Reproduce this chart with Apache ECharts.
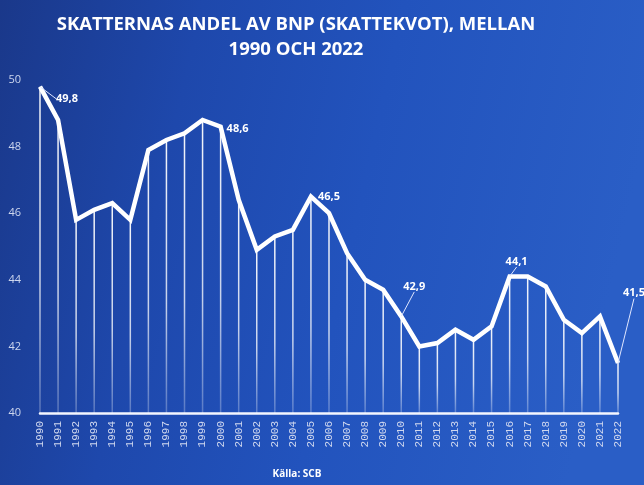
<!DOCTYPE html>
<html>
<head>
<meta charset="utf-8">
<script src="https://cdn.jsdelivr.net/npm/echarts@6/dist/echarts.min.js"></script>
<style>
html,body{margin:0;padding:0;background:#1f4aa8;}
#c{width:644px;height:485px;}
</style>
</head>
<body>
<div id="c"></div>
<script>
var years = ['1990','1991','1992','1993','1994','1995','1996','1997','1998','1999','2000','2001','2002','2003','2004','2005','2006','2007','2008','2009','2010','2011','2012','2013','2014','2015','2016','2017','2018','2019','2020','2021','2022'];
var skattekvot = [49.8,48.8,45.8,46.1,46.3,45.8,47.9,48.2,48.4,48.8,48.6,46.4,44.9,45.3,45.5,46.5,46.0,44.8,44.0,43.7,42.9,42.0,42.1,42.5,42.2,42.6,44.1,44.1,43.8,42.8,42.4,42.9,41.5];
var labeledYears = ['1990','2000','2005','2010','2016','2022'];
var leaderYears = ['1990','2010','2016','2022'];
var yTicks = {min:40, max:50, interval:2};

// label placement (style only)
var labelShift = {
  '1990': {dx:27, dy:23},
  '2000': {dx:17, dy:13},
  '2005': {dx:18, dy:11},
  '2010': {dx:13, dy:-19},
  '2016': {dx:7, dy:-4},
  '2022': {dx:16, dy:-59}
};

function fmt(v){ return String(v.toFixed(1)).replace('.', ','); }

var lineData = skattekvot.map(function(v,i){
  if (labeledYears.indexOf(years[i]) >= 0) {
    return {value: v, label: {show: true}, labelLine: {show: leaderYears.indexOf(years[i]) >= 0}};
  }
  return v;
});
var dropData = skattekvot.map(function(v,i){ return [i, v]; });

var chart = echarts.init(document.getElementById('c'), null, {renderer:'canvas'});
chart.setOption({
  backgroundColor: new echarts.graphic.LinearGradient(0,0,1,0.3,[
    {offset:0, color:'#1a388a'},
    {offset:0.3, color:'#1e48ac'},
    {offset:0.6, color:'#2253bd'},
    {offset:1, color:'#2a5ec6'}
  ]),
  animation:false,
  title: {
    text: 'SKATTERNAS ANDEL AV BNP (SKATTEKVOT), MELLAN\n1990 OCH 2022',
    left: 291, top: 7, textAlign: 'center',
    textStyle: {color:'#ffffff', fontFamily:'Open Sans', fontWeight:'bold', fontSize:18.5, lineHeight:25}
  },
  graphic: [{
    type:'text', x: 297, y: 474,
    style:{text:'Källa: SCB', fill:'#ffffff', font:'bold 10px "Open Sans"', textAlign:'center', textVerticalAlign:'middle'}
  }],
  grid: {left:40, right:26, top:80, bottom:72},
  xAxis: {
    type:'category', data: years, boundaryGap:false,
    axisLine:{show:true, lineStyle:{color:'#f4f6ff', width:2.5}},
    axisTick:{show:false},
    splitLine:{show:false},
    axisLabel:{rotate:90, interval:0, margin:8, color:'#d0d8ef', fontFamily:'Liberation Mono', fontSize:11}
  },
  yAxis: {
    type:'value', min:yTicks.min, max:yTicks.max, interval:yTicks.interval,
    axisLine:{show:false}, axisTick:{show:false}, splitLine:{show:false},
    axisLabel:{color:'#cdd6ee', fontFamily:'Open Sans', fontSize:11, margin:19}
  },
  series: [
    {
      type:'custom', data: dropData, encode:{x:0, y:1}, z:2, silent:true,
      renderItem: function(params, api){
        var top = api.coord([api.value(0), api.value(1)]);
        var bot = api.coord([api.value(0), yTicks.min]);
        return {
          type:'line',
          shape:{x1:top[0], y1:top[1], x2:bot[0], y2:bot[1]},
          style:{
            stroke: new echarts.graphic.LinearGradient(0, top[1], 0, bot[1], [
              {offset:0, color:'rgba(255,255,255,0.95)'},
              {offset:0.6, color:'rgba(255,255,255,0.75)'},
              {offset:1, color:'rgba(255,255,255,0.25)'}
            ], true),
            lineWidth:1.5
          }
        };
      }
    },
    {
      type:'line', data: lineData, z:3,
      symbol:'circle', symbolSize:1, showSymbol:true,
      itemStyle:{color:'rgba(255,255,255,0)', borderWidth:0},
      lineStyle:{color:'#ffffff', width:4.5, join:'miter'},
      label:{show:false, position:'top', color:'#ffffff', fontFamily:'Open Sans', fontWeight:'bold', fontSize:11,
        formatter: function(p){ return fmt(p.value); }},
      labelLine:{show:false, lineStyle:{color:'#dfe6ff', width:1}},
      labelLayout: function(p){
        var s = labelShift[years[p.dataIndex]];
        if (!s) return {};
        return {dx:s.dx, dy:s.dy, hideOverlap:false};
      }
    }
  ]
});
</script>
</body>
</html>
